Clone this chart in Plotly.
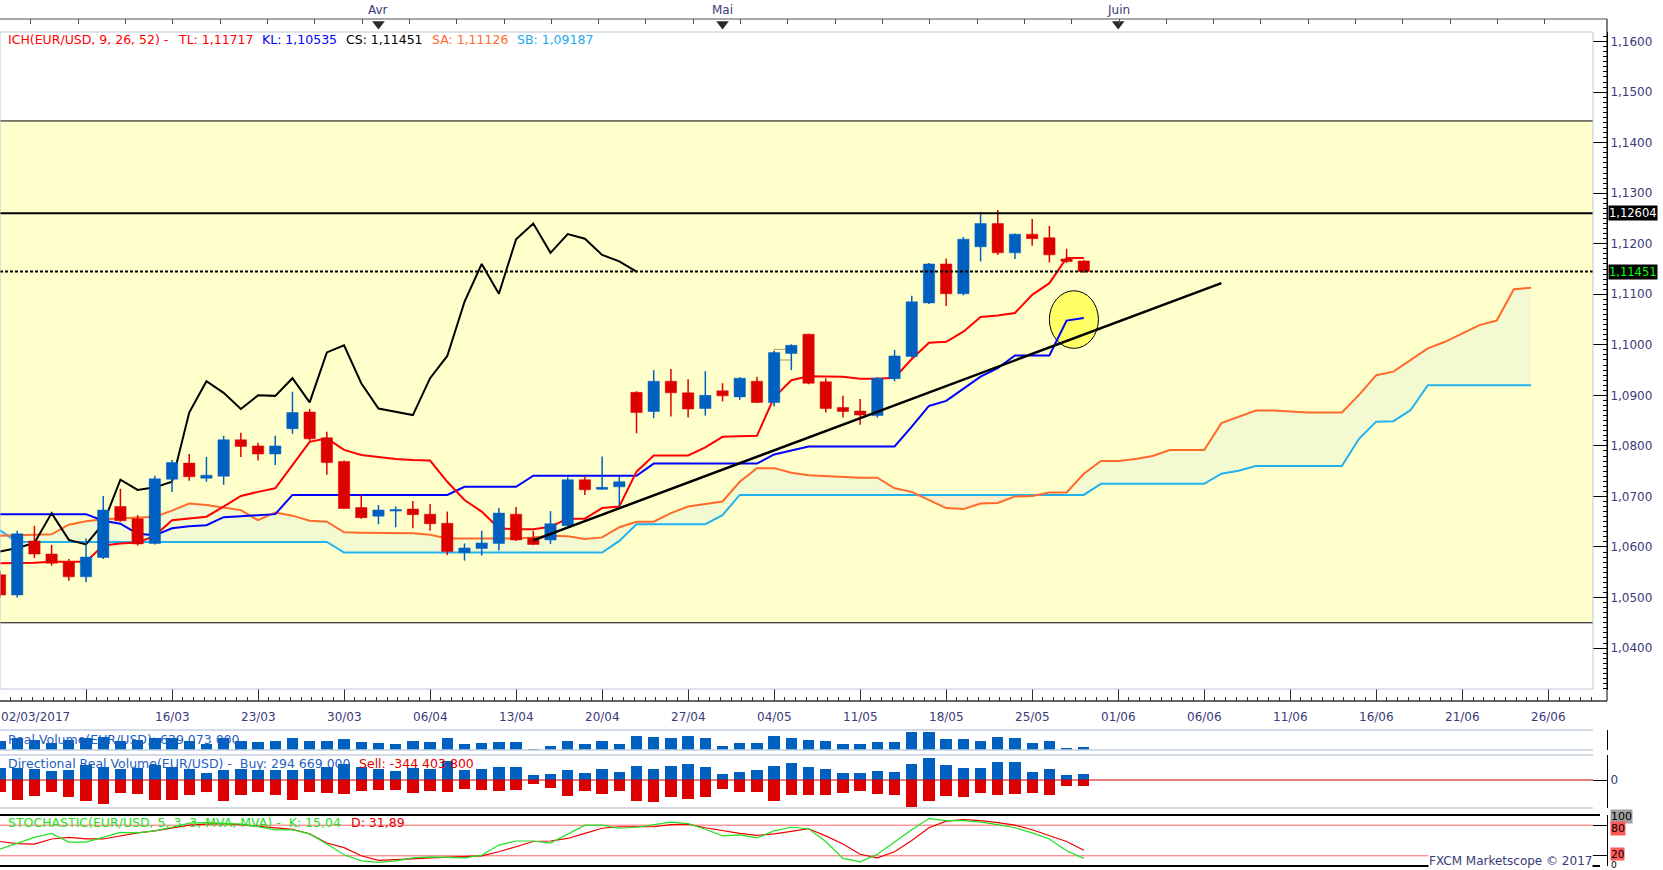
import numpy as np
import plotly.graph_objects as go

W, H = 1663, 870
FONT = "DejaVu Sans"
NAVY = "#3A3A78"
C_UP = "#0060C0"
C_DN = "#DD0000"

# ---------------- price data (EUR/USD daily, one value per bar) ----------------
opens = [1.0545, 1.0505, 1.0612, 1.0586, 1.0571, 1.0541, 1.0579, 1.0680, 1.0656, 1.0607,
         1.0734, 1.0766, 1.0736, 1.0740, 1.0812, 1.0800, 1.0784, 1.0834, 1.0867, 1.0816,
         1.0769, 1.0678, 1.0661, 1.0671, 1.0675, 1.0665, 1.0647, 1.0589, 1.0597, 1.0607,
         1.0665, 1.0618, 1.0614, 1.0642, 1.0733, 1.0714, 1.0719, 1.0906, 1.0868, 1.0928,
         1.0905, 1.0874, 1.0909, 1.0897, 1.0928, 1.0886, 1.0983, 1.1021, 1.0927, 1.0876,
         1.0869, 1.0860, 1.0933, 1.0977, 1.1083, 1.1160, 1.1101, 1.1194, 1.1240, 1.1182,
         1.1219, 1.1212, 1.1170, 1.1166]
highs = [1.0552, 1.0632, 1.0642, 1.0604, 1.0576, 1.0617, 1.0701, 1.0715, 1.0663, 1.0741,
         1.0772, 1.0784, 1.0778, 1.0820, 1.0826, 1.0806, 1.0820, 1.0907, 1.0873, 1.0828,
         1.0771, 1.0703, 1.0683, 1.0680, 1.0691, 1.0685, 1.0670, 1.0607, 1.0632, 1.0677,
         1.0679, 1.0632, 1.0671, 1.0738, 1.0740, 1.0779, 1.0739, 1.0908, 1.0950, 1.0952,
         1.0932, 1.0948, 1.0924, 1.0936, 1.0937, 1.0988, 1.1001, 1.1022, 1.0934, 1.0899,
         1.0893, 1.0936, 1.0990, 1.1097, 1.1162, 1.1171, 1.1213, 1.1263, 1.1267, 1.1220,
         1.1249, 1.1235, 1.1190, 1.1168]
lows = [1.0500, 1.0500, 1.0578, 1.0563, 1.0533, 1.0530, 1.0576, 1.0650, 1.0603, 1.0605,
        1.0709, 1.0731, 1.0729, 1.0723, 1.0778, 1.0771, 1.0762, 1.0824, 1.0810, 1.0743,
        1.0675, 1.0656, 1.0645, 1.0639, 1.0637, 1.0632, 1.0584, 1.0573, 1.0583, 1.0593,
        1.0612, 1.0604, 1.0606, 1.0641, 1.0703, 1.0713, 1.0680, 1.0825, 1.0855, 1.0858,
        1.0856, 1.0860, 1.0888, 1.0891, 1.0885, 1.0878, 1.0950, 1.0922, 1.0866, 1.0856,
        1.0842, 1.0856, 1.0928, 1.0975, 1.1081, 1.1077, 1.1098, 1.1165, 1.1178, 1.1170,
        1.1196, 1.1163, 1.1162, 1.1142]
closes = [1.0505, 1.0626, 1.0586, 1.0568, 1.0541, 1.0580, 1.0673, 1.0652, 1.0606, 1.0735,
          1.0767, 1.0739, 1.0742, 1.0812, 1.0799, 1.0784, 1.0800, 1.0866, 1.0814, 1.0767,
          1.0676, 1.0658, 1.0673, 1.0674, 1.0664, 1.0646, 1.0591, 1.0598, 1.0608, 1.0667,
          1.0614, 1.0605, 1.0646, 1.0733, 1.0713, 1.0718, 1.0729, 1.0866, 1.0928, 1.0905,
          1.0873, 1.0900, 1.0899, 1.0934, 1.0886, 1.0985, 1.0999, 1.0924, 1.0874, 1.0868,
          1.0861, 1.0934, 1.0978, 1.1085, 1.1160, 1.1101, 1.1209, 1.1240, 1.1182, 1.1219,
          1.1210, 1.1178, 1.1165, 1.1145]

# Ichimoku lines
tenkan = [1.0568, 1.0568, 1.0569, 1.0571, 1.0571, 1.0571, 1.0603, 1.0607, 1.0609, 1.0622,
          1.0653, 1.0656, 1.0660, 1.0680, 1.0701, 1.0709, 1.0716, 1.0762, 1.0808, 1.0815,
          1.0792, 1.0782, 1.0778, 1.0774, 1.0772, 1.0771, 1.0729, 1.0693, 1.0670, 1.0637,
          1.0635, 1.0635, 1.0640, 1.0656, 1.0656, 1.0677, 1.0680, 1.0749, 1.0781, 1.0781,
          1.0781, 1.0797, 1.0818, 1.0819, 1.0820, 1.0896, 1.0930, 1.0938, 1.0938, 1.0937,
          1.0933, 1.0933, 1.0935, 1.0972, 1.1004, 1.1006, 1.1026, 1.1055, 1.1058, 1.1063,
          1.1099, 1.1122, 1.1172, 1.1172]
kijun = [1.0665, 1.0665, 1.0665, 1.0665, 1.0665, 1.0665, 1.0652, 1.0646, 1.0626, 1.0623,
         1.0637, 1.0641, 1.0643, 1.0659, 1.0661, 1.0663, 1.0665, 1.0703, 1.0703, 1.0703,
         1.0703, 1.0703, 1.0703, 1.0703, 1.0703, 1.0703, 1.0703, 1.0719, 1.0719, 1.0719,
         1.0719, 1.0741, 1.0741, 1.0741, 1.0741, 1.0741, 1.0741, 1.0741, 1.0765, 1.0765,
         1.0765, 1.0765, 1.0765, 1.0765, 1.0765, 1.0783, 1.0791, 1.0799, 1.0799, 1.0799,
         1.0799, 1.0799, 1.0799, 1.0838, 1.0879, 1.0889, 1.0913, 1.0937, 1.0954, 1.0979,
         1.0979, 1.0979, 1.1048, 1.1053]
senkou_a = [1.0622, 1.0623, 1.0624, 1.0625, 1.0644, 1.0651, 1.0655, 1.0657, 1.0659, 1.0660,
            1.0672, 1.0686, 1.0683, 1.0678, 1.0673, 1.0653, 1.0668, 1.0662, 1.0652, 1.0650,
            1.0629, 1.0628, 1.0628, 1.0627, 1.0627, 1.0624, 1.0617, 1.0617, 1.0617, 1.0617,
            1.0617, 1.0619, 1.0622, 1.0621, 1.0616, 1.0619, 1.0639, 1.0650, 1.0650, 1.0667,
            1.0680, 1.0685, 1.0690, 1.0729, 1.0756, 1.0756, 1.0747, 1.0742, 1.0740, 1.0738,
            1.0737, 1.0737, 1.0716, 1.0709, 1.0693, 1.0677, 1.0675, 1.0686, 1.0687, 1.0700,
            1.0701, 1.0708, 1.0708, 1.0745, 1.0770, 1.0770, 1.0774, 1.0780, 1.0792, 1.0792,
            1.0792, 1.0845, 1.0858, 1.0870, 1.0870, 1.0868, 1.0866, 1.0866, 1.0866, 1.0901,
            1.0940, 1.0947, 1.0970, 1.0993, 1.1006, 1.1023, 1.1039, 1.1048, 1.1110, 1.1113]
senkou_b = [1.0633, 1.0610, 1.0610, 1.0610, 1.0610, 1.0610, 1.0610, 1.0610, 1.0610, 1.0610,
            1.0610, 1.0610, 1.0610, 1.0610, 1.0610, 1.0610, 1.0610, 1.0610, 1.0610, 1.0610,
            1.0589, 1.0589, 1.0589, 1.0589, 1.0589, 1.0589, 1.0589, 1.0589, 1.0589, 1.0589,
            1.0589, 1.0589, 1.0589, 1.0589, 1.0589, 1.0589, 1.0612, 1.0645, 1.0645, 1.0645,
            1.0645, 1.0645, 1.0663, 1.0703, 1.0703, 1.0703, 1.0703, 1.0703, 1.0703, 1.0703,
            1.0703, 1.0703, 1.0703, 1.0703, 1.0703, 1.0703, 1.0703, 1.0703, 1.0703, 1.0703,
            1.0703, 1.0703, 1.0703, 1.0703, 1.0725, 1.0725, 1.0725, 1.0725, 1.0725, 1.0725,
            1.0725, 1.0745, 1.0751, 1.0760, 1.0760, 1.0760, 1.0760, 1.0760, 1.0760, 1.0814,
            1.0848, 1.0849, 1.0871, 1.0920, 1.0920, 1.0920, 1.0920, 1.0920, 1.0920, 1.0920]
chikou_shift = 26

# Stochastic (5,3,3)
stoch_k = [33, 44, 56, 64, 47, 47, 56, 66, 65, 69, 76, 84, 85, 83, 82, 77, 71, 71, 63, 43,
           22, 10, 7, 10, 16, 18, 17, 16, 21, 41, 49, 49, 45, 63, 80, 80, 74, 76, 81, 86,
           83, 72, 59, 61, 55, 69, 76, 73, 48, 15, 8, 23, 47, 71, 93, 89, 89, 86, 81, 75,
           65, 53, 30, 15]
stoch_d = [48, 44, 43, 53, 56, 53, 53, 59, 65, 69, 75, 80, 82, 83, 81, 78, 74, 72, 63, 45,
           36, 20, 11, 12, 14, 16, 17, 19, 20, 28, 38, 48, 49, 54, 64, 74, 77, 77, 77, 81,
           82, 75, 69, 64, 60, 63, 68, 73, 59, 43, 23, 16, 28, 50, 75, 88, 91, 89, 85, 80,
           71, 60, 48, 31]

# Volumes (millions)
real_volume = [1329, 1640, 1444, 1134, 1444, 1640, 1824, 1329, 1444, 1709,
               1709, 1329, 984, 1640, 1329, 1249, 1329, 1674, 1329, 1329,
               1559, 1249, 1134, 984, 1329, 1249, 1674, 984, 1134, 1249,
               1249, 444, 754, 1329, 984, 1329, 984, 1904, 1789, 1674,
               1904, 1674, 754, 1099, 1099, 1904, 1674, 1444, 1329, 984,
               984, 1214, 1214, 2364, 2364, 1559, 1559, 1329, 1789, 1674,
               1099, 1329, 524, 639]
buy_volume = [652, 652, 567, 477, 530, 795, 689, 567, 636, 795,
              689, 567, 371, 530, 567, 530, 530, 530, 567, 689,
              832, 689, 583, 477, 636, 567, 1007, 530, 583, 689,
              689, 265, 318, 530, 371, 583, 424, 742, 583, 742,
              848, 689, 318, 424, 530, 742, 901, 689, 583, 371,
              371, 477, 424, 848, 1166, 795, 636, 636, 954, 954,
              424, 583, 265, 295]
sell_volume = [-620, -1060, -848, -636, -885, -1113, -1256, -673, -742, -1060,
               -1060, -779, -636, -1113, -795, -620, -795, -1060, -620, -673,
               -742, -583, -514, -514, -673, -567, -620, -461, -514, -567,
               -514, -196, -408, -848, -567, -742, -567, -1113, -1166, -901,
               -1007, -901, -477, -636, -636, -1113, -795, -795, -795, -689,
               -583, -742, -795, -1431, -1113, -848, -901, -689, -795, -742,
               -689, -795, -318, -344]

# Axis labels
first_date_label = "02/03/2017"
date_tick_idx = [10, 15, 20, 25, 30, 35, 40, 45, 50, 55, 60, 65, 70, 75, 80, 85, 90]
date_tick_labels = ["16/03", "23/03", "30/03", "06/04", "13/04", "20/04", "27/04", "04/05",
                    "11/05", "18/05", "25/05", "01/06", "06/06", "11/06", "16/06", "21/06", "26/06"]
month_idx = [22, 42, 65]
month_labels = ["Avr", "Mai", "Juin"]

# Drawings
resistance_level = 1.12604
last_close_level = 1.11451
zone_low, zone_high = 1.0450, 1.1443
trend_x = [31, 71]
trend_y = [1.0613, 1.1122]
circle_x = [61.0, 63.85]
circle_y = [1.0993, 1.1107]
box_x = [45.0, 46.0]
box_y = [1.0970, 1.0991]

legend_parts = [("ICH(EUR/USD, 9, 26, 52) -", "#FF0000"), ("TL: 1,11717", "#FF0000"),
                ("KL: 1,10535", "#0000FF"), ("CS: 1,11451", "#000000"),
                ("SA: 1,11126", "#FF6A2B"), ("SB: 1,09187", "#22AAEE")]

# ---------------- helpers ----------------
def X(px):
    return px / W

def Y(py):
    return 1 - py / H

XD = X(1593)
AX = X(1607)

o = np.array(opens); h = np.array(highs); l = np.array(lows); c = np.array(closes)
idx = np.arange(len(o))
up = c >= o
body_lo = np.minimum(o, c)
body_hi = np.maximum(np.maximum(o, c), body_lo + 0.00022)

fig = go.Figure()

# ---------------- cloud ----------------
sa = np.array(senkou_a); sb = np.array(senkou_b)
cx = np.arange(len(sa))
fig.add_scatter(x=cx, y=sb, mode="lines", line=dict(width=0), hoverinfo="skip")
fig.add_scatter(x=cx, y=np.maximum(sa, sb), mode="lines", line=dict(width=0),
                fill="tonexty", fillcolor="#F3FAD2", hoverinfo="skip")
fig.add_scatter(x=cx, y=sb, mode="lines", line=dict(width=0), hoverinfo="skip")
fig.add_scatter(x=cx, y=np.minimum(sa, sb), mode="lines", line=dict(width=0),
                fill="tonexty", fillcolor="#FDEFCB", hoverinfo="skip")
fig.add_scatter(x=cx, y=sb, mode="lines", line=dict(color="#22B2F0", width=2))
fig.add_scatter(x=cx, y=sa, mode="lines", line=dict(color="#FF6A2B", width=2))

# ---------------- tenkan / kijun / chikou ----------------
fig.add_scatter(x=idx, y=kijun, mode="lines", line=dict(color="#0000FF", width=2))
fig.add_scatter(x=idx, y=tenkan, mode="lines", line=dict(color="#FF0000", width=2))
fig.add_scatter(x=idx[chikou_shift:] - chikou_shift, y=c[chikou_shift:], mode="lines",
                line=dict(color="#000000", width=2))

# ---------------- candles ----------------
for mask, col in ((up, C_UP), (~up, C_DN)):
    wx, wy, bx, by = [], [], [], []
    for i in np.where(mask)[0]:
        wx += [i, i, None]
        wy += [l[i], h[i], None]
        bx += [i - 0.33, i + 0.33, i + 0.33, i - 0.33, i - 0.33, None]
        by += [body_lo[i], body_lo[i], body_hi[i], body_hi[i], body_lo[i], None]
    fig.add_scatter(x=wx, y=wy, mode="lines", line=dict(color=col, width=1.5), hoverinfo="skip")
    fig.add_scatter(x=bx, y=by, mode="lines", line=dict(color=col, width=0.5),
                    fill="toself", fillcolor=col, hoverinfo="skip")

# ---------------- trend line ----------------
fig.add_scatter(x=trend_x, y=trend_y, mode="lines", line=dict(color="black", width=2.5))

# ---------------- volume panels ----------------
fig.add_bar(x=idx, y=real_volume, width=0.66, marker=dict(color=C_UP, line=dict(width=0)),
            xaxis="x", yaxis="y2")
fig.add_bar(x=idx, y=buy_volume, width=0.66, marker=dict(color=C_UP, line=dict(width=0)),
            xaxis="x", yaxis="y3")
fig.add_bar(x=idx, y=sell_volume, width=0.66, marker=dict(color=C_DN, line=dict(width=0)),
            xaxis="x", yaxis="y3")

# ---------------- stochastic ----------------
fig.add_scatter(x=idx, y=stoch_d, mode="lines", line=dict(color="#EE0000", width=1.2),
                xaxis="x", yaxis="y4")
fig.add_scatter(x=idx, y=stoch_k, mode="lines", line=dict(color="#22E022", width=1.2),
                xaxis="x", yaxis="y4")

# ---------------- rulers (top / bottom) ----------------
fig.add_scatter(x=[0], y=[0], mode="markers", marker=dict(opacity=0), xaxis="x2", yaxis="y6",
                hoverinfo="skip")
fig.add_scatter(x=month_idx, y=[0.62] * len(month_idx), mode="markers",
                marker=dict(symbol="triangle-down", size=11, color="#2A2A2A"),
                xaxis="x3", yaxis="y7", cliponaxis=False, hoverinfo="skip")

# ---------------- shapes ----------------
shapes = []
shapes.append(dict(type="rect", xref="paper", yref="y", x0=0, x1=XD, y0=zone_low, y1=zone_high,
                   fillcolor="#FFFFCC", line=dict(width=0), layer="below"))
shapes.append(dict(type="circle", xref="x", yref="y", x0=circle_x[0], x1=circle_x[1],
                   y0=circle_y[0], y1=circle_y[1], fillcolor="#FFFF66",
                   line=dict(color="black", width=1), layer="below"))
shapes.append(dict(type="rect", xref="x", yref="y", x0=box_x[0], x1=box_x[1],
                   y0=box_y[0], y1=box_y[1], fillcolor="#FFFFCC",
                   line=dict(color="#A89A5A", width=1), layer="below"))
for lev in (zone_low, zone_high):
    shapes.append(dict(type="line", xref="paper", yref="y", x0=0, x1=XD, y0=lev, y1=lev,
                       line=dict(color="black", width=1)))
shapes.append(dict(type="line", xref="paper", yref="y", x0=0, x1=XD, y0=resistance_level,
                   y1=resistance_level, line=dict(color="black", width=2)))
shapes.append(dict(type="line", xref="paper", yref="y", x0=0, x1=XD, y0=last_close_level,
                   y1=last_close_level, line=dict(color="black", width=2, dash="3px,2px")))
# main frame
shapes.append(dict(type="rect", xref="paper", yref="paper", x0=0, x1=XD, y0=Y(689), y1=Y(32),
                   line=dict(color="#BCC8D8", width=1)))
# top ruler line, bottom ruler line, right axis line
shapes.append(dict(type="line", xref="paper", yref="paper", x0=0, x1=AX, y0=Y(19), y1=Y(19),
                   line=dict(color="#505050", width=1)))
shapes.append(dict(type="line", xref="paper", yref="paper", x0=0, x1=AX, y0=Y(701), y1=Y(701),
                   line=dict(color="#333333", width=1.5)))
shapes.append(dict(type="line", xref="paper", yref="paper", x0=AX, x1=AX, y0=Y(701), y1=Y(19),
                   line=dict(color="black", width=1)))
# volume panel borders
for yy in (730, 750, 755, 808):
    shapes.append(dict(type="line", xref="paper", yref="paper", x0=0, x1=XD, y0=Y(yy), y1=Y(yy),
                       line=dict(color="#C5D0DE", width=1.5)))
shapes.append(dict(type="line", xref="paper", yref="y3", x0=0, x1=XD, y0=0, y1=0,
                   line=dict(color="#CC0000", width=1)))
# stochastic panel
for lev in (20, 80):
    shapes.append(dict(type="line", xref="paper", yref="y4", x0=0, x1=XD, y0=lev, y1=lev,
                       line=dict(color="#FF6464", width=1), layer="below"))
for yy in (815, 866):
    shapes.append(dict(type="line", xref="paper", yref="paper", x0=0, x1=X(1600), y0=Y(yy),
                       y1=Y(yy), line=dict(color="black", width=2)))

# ---------------- annotations ----------------
ann = []

def txt(x, y, s, color, xref="paper", yref="paper", xanchor="left", bg="rgba(0,0,0,0)", size=12):
    ann.append(dict(x=x, y=y, xref=xref, yref=yref, text=s, showarrow=False, xanchor=xanchor,
                    yanchor="middle", font=dict(family=FONT, size=size, color=color),
                    bgcolor=bg, borderpad=0))

legend_x = [7, 177, 261, 345, 431, 516]
for (s, col), px in zip(legend_parts, legend_x):
    txt(X(px), Y(40), s, col, size=12.5)

for mi, ml in zip(month_idx, month_labels):
    txt(mi, Y(10), ml, NAVY, xref="x", xanchor="center")

txt(0, Y(717), first_date_label, NAVY, xref="x", xanchor="left")
for di, dl in zip(date_tick_idx, date_tick_labels):
    txt(di, Y(717), dl, NAVY, xref="x", xanchor="center")

txt(X(7), Y(739), "Real Volume(EUR/USD): 639 073 000", "#1F5FBF", size=12.5)
txt(X(7), Y(763), "Directional Real Volume(EUR/USD) -  Buy: 294 669 000", "#1F5FBF", size=12.5)
txt(X(358), Y(763), "Sell: -344 403 800", "#E00000", size=12.5)
txt(X(7), Y(822), "STOCHASTIC(EUR/USD, 5, 3, 3, MVA, MVA) -  K: 15,04", "#22E022", size=12.5)
txt(X(350), Y(822), "D: 31,89", "#E00000", size=12.5)

txt(X(1608), resistance_level, "1,12604", "white", yref="y", bg="black", size=11.5)
txt(X(1608), last_close_level, "1,11451", "#00FF00", yref="y", bg="black", size=11.5)

txt(X(1610), 97, "100", "black", yref="y4", bg="#A0A0A0", size=11)
txt(X(1610), 73, "80", "black", yref="y4", bg="#FF5A5A", size=11)
txt(X(1610), 24, "20", "black", yref="y4", bg="#FF5A5A", size=10.5)
txt(X(1610), 1.5, "0", "black", yref="y4", size=9)

txt(XD, Y(861), "FXCM Marketscope © 2017", NAVY, xanchor="right", bg="white")

# ---------------- layout ----------------
XR = [0, 92.6]
common_y = dict(side="right", anchor="free", position=AX, showline=True, linecolor="black",
                linewidth=1, showgrid=False, zeroline=False, ticks="inside", tickcolor="black",
                tickfont=dict(family=FONT, size=12, color=NAVY))

fig.update_layout(
    width=W, height=H, margin=dict(l=0, r=0, t=0, b=0),
    paper_bgcolor="white", plot_bgcolor="white",
    showlegend=False, barmode="overlay", bargap=0, separators=", ",
    font=dict(family=FONT, size=12, color=NAVY),
    xaxis=dict(domain=[0, XD], range=XR, showgrid=False, zeroline=False, showticklabels=False,
               ticks="", showline=False, anchor="y"),
    xaxis2=dict(domain=[0, XD], range=XR, anchor="y6", side="bottom", showgrid=False,
                zeroline=False, showticklabels=False, showline=False, ticks="inside",
                ticklen=12, tickcolor="#333333", tick0=0, dtick=5,
                minor=dict(ticks="inside", ticklen=4, tickcolor="#333333", dtick=0.625,
                           showgrid=False)),
    xaxis3=dict(domain=[0, XD], range=XR, anchor="y7", side="top", showgrid=False,
                zeroline=False, showticklabels=False, showline=False, ticks="inside",
                ticklen=5, tickcolor="#505050", tick0=1.8, dtick=2.75),
    yaxis=dict(common_y, domain=[Y(690), Y(32)], range=[1.0317, 1.1619], dtick=0.01, tick0=1.0,
               tickformat=".4f", ticklen=14,
               minor=dict(ticks="inside", ticklen=4, dtick=0.001, tickcolor="black",
                          showgrid=False)),
    yaxis2=dict(common_y, domain=[Y(750), Y(730)], range=[294, 2594], showticklabels=False,
                tickvals=[294, 2594], ticklen=6),
    yaxis3=dict(common_y, domain=[Y(808), Y(755)], range=[-1484, 1325], tickvals=[0],
                ticktext=["0"], ticklen=14),
    yaxis4=dict(common_y, domain=[Y(866), Y(815)], range=[0, 100], tickvals=[0, 20, 80, 100],
                showticklabels=False, ticklen=14),
    yaxis6=dict(domain=[Y(701), Y(689)], range=[0, 1], visible=False, anchor="x2"),
    yaxis7=dict(domain=[Y(32), Y(19)], range=[0, 1], visible=False, anchor="x3"),
    shapes=shapes, annotations=ann,
)

fig.write_html("out.html", config={"displayModeBar": False},
               post_script="document.body.style.margin='0px';document.body.style.overflow='hidden';")
